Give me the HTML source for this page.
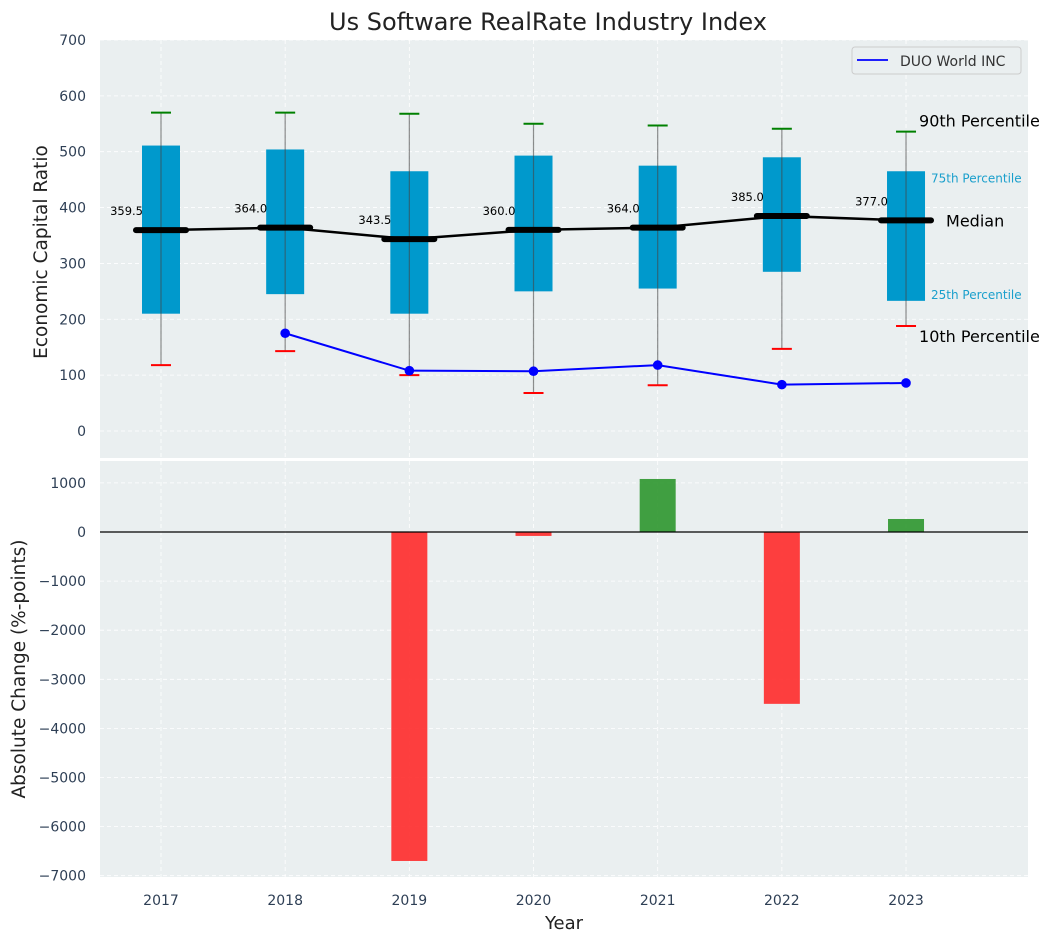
<!DOCTYPE html>
<html><head><meta charset="utf-8">
<style>
body{margin:0;background:#fff;font-family:"Liberation Sans","DejaVu Sans",sans-serif;}
svg text{font-family:"DejaVu Sans","Liberation Sans",sans-serif;}
</style></head>
<body>
<svg id="chart" width="1054" height="942" xmlns="http://www.w3.org/2000/svg"></svg>
<script>
const years=[2017,2018,2019,2020,2021,2022,2023];
const p10=[118,143,100,68,82,147,188];
const q1=[210,245,210,250,255,285,233];
const medians=[359.5,364,343.5,360,364,385,377];
const q3=[511,504,465,493,475,490,465];
const p90=[570,570,568,550,547,541,536];
const duoYears=[2018,2019,2020,2021,2022,2023];
const duoValues=[175,108,107,118,83,86];
const changeYears=[2019,2020,2021,2022,2023];
const changeValues=[-6700,-80,1080,-3500,265];
const topTicks=[0,100,200,300,400,500,600,700];
const botTicks=[1000,0,-1000,-2000,-3000,-4000,-5000,-6000,-7000];

const NS="http://www.w3.org/2000/svg";
const svg=document.getElementById('chart');
function el(tag,attrs,parent){const e=document.createElementNS(NS,tag);for(const k in attrs)e.setAttribute(k,attrs[k]);(parent||svg).appendChild(e);return e;}
const L=100,R=1028;
const x=v=>161+(v-2017)*124.17;
const yT=v=>431-v*0.5586;
const yB=v=>532-v*0.0491;

let t=el('rect',{x:L,y:40,width:R-L,height:418,fill:'#eaeff0'});

let b=el('rect',{x:L,y:461,width:R-L,height:416,fill:'#eaeff0'});


years.forEach(yr=>{
  el('line',{x1:x(yr),x2:x(yr),y1:40,y2:458,stroke:'#fff','stroke-dasharray':'4,3','stroke-width':0.8});
  el('line',{x1:x(yr),x2:x(yr),y1:461,y2:877,stroke:'#fff','stroke-dasharray':'4,3','stroke-width':0.8});
  let tx=el('text',{x:x(yr),y:905,'text-anchor':'middle','font-size':14,fill:'#2e3f55'});tx.textContent=yr;
  
});
topTicks.forEach(v=>{
  el('line',{x1:L,x2:R,y1:yT(v),y2:yT(v),stroke:'#fff','stroke-dasharray':'4,3','stroke-width':0.8});
  let tx=el('text',{x:86,y:yT(v)+5,'text-anchor':'end','font-size':14,fill:'#2e3f55'});tx.textContent=v;
  
});
botTicks.forEach(v=>{
  el('line',{x1:L,x2:R,y1:yB(v),y2:yB(v),stroke:'#fff','stroke-dasharray':'4,3','stroke-width':0.8});
  let tx=el('text',{x:86,y:yB(v)+5,'text-anchor':'end','font-size':14,fill:'#2e3f55'});tx.textContent=v<0?'\u2212'+(-v):v;
  
});

years.forEach((yr,i)=>{
  const cx=x(yr);
  let r=el('rect',{x:cx-19,y:yT(q3[i]),width:38,height:yT(q1[i])-yT(q3[i]),fill:'#0099cc'});
  
  el('line',{x1:cx,x2:cx,y1:yT(p10[i]),y2:yT(p90[i]),stroke:'#444','stroke-opacity':0.6,'stroke-width':1.2});
  let c1=el('line',{x1:cx-10,x2:cx+10,y1:yT(p90[i]),y2:yT(p90[i]),stroke:'green','stroke-width':2});
  
  let c2=el('line',{x1:cx-10,x2:cx+10,y1:yT(p10[i]),y2:yT(p10[i]),stroke:'red','stroke-width':2});
  
});
let mp=el('polyline',{points:years.map((yr,i)=>x(yr)+','+yT(medians[i])).join(' '),fill:'none',stroke:'#000','stroke-width':2.5});

years.forEach((yr,i)=>{
  const cx=x(yr);
  let m=el('line',{x1:cx-25,x2:cx+25,y1:yT(medians[i]),y2:yT(medians[i]),stroke:'#000','stroke-width':6,'stroke-linecap':'round'});
  
  let tx=el('text',{x:cx-18,y:yT(medians[i])-15,'text-anchor':'end','font-size':11.5,fill:'#000'});tx.textContent=medians[i].toFixed(1);
  
});
let dl=el('polyline',{points:duoYears.map((yr,i)=>x(yr)+','+yT(duoValues[i])).join(' '),fill:'none',stroke:'#0000ff','stroke-width':2});

duoYears.forEach((yr,i)=>{
  let c=el('circle',{cx:x(yr),cy:yT(duoValues[i]),r:4.8,fill:'#0000ff'});
  
});
const li=years.length-1, lx=x(years[li]);
function ann(txt,xx,yy,size,color,name){let a=el('text',{x:xx,y:yy,'font-size':size,fill:color});a.textContent=txt;}
ann('90th Percentile',lx+13,yT(p90[li])-5,16,'#000','p90-annotation');
ann('75th Percentile',lx+25,yT(q3[li])+11,12,'#1a9fcc','p75-annotation');
ann('Median',lx+40,yT(medians[li])+6,16,'#000','median-annotation');
ann('25th Percentile',lx+25,yT(q1[li])-2,12,'#1a9fcc','p25-annotation');
ann('10th Percentile',lx+13,yT(p10[li])+16,16,'#000','p10-annotation');

let lg=el('g',{});
el('rect',{x:852,y:47,width:169,height:27,rx:3,fill:'#eaeff0',stroke:'#ccc'},lg);
el('line',{x1:857,x2:888,y1:60,y2:60,stroke:'#0000ff','stroke-width':1.8},lg);
let lt=el('text',{x:900,y:66,'font-size':14,fill:'#333'},lg);lt.textContent='DUO World INC';

changeYears.forEach((yr,i)=>{
  const v=changeValues[i];
  const y0=yB(Math.max(v,0)),y1=yB(Math.min(v,0));
  let r=el('rect',{x:x(yr)-18,y:y0,width:36,height:y1-y0,fill:v>=0?'#2e962e':'#ff2a2a','fill-opacity':0.9});
  
});
el('line',{x1:L,x2:R,y1:yB(0),y2:yB(0),stroke:'#000','stroke-width':1.2});

let ti=el('text',{x:548,y:30,'text-anchor':'middle','font-size':24,fill:'#222'});ti.textContent='Us Software RealRate Industry Index';

let xl=el('text',{x:564,y:929,'text-anchor':'middle','font-size':18,fill:'#222'});xl.textContent='Year';

let y1=el('text',{x:47,y:252,'text-anchor':'middle','font-size':18.5,fill:'#222',transform:'rotate(-90 47 252)'});y1.textContent='Economic Capital Ratio';

let y2=el('text',{x:25,y:669,'text-anchor':'middle','font-size':18.5,fill:'#222',transform:'rotate(-90 25 669)'});y2.textContent='Absolute Change (%-points)';

</script>
</body></html>
